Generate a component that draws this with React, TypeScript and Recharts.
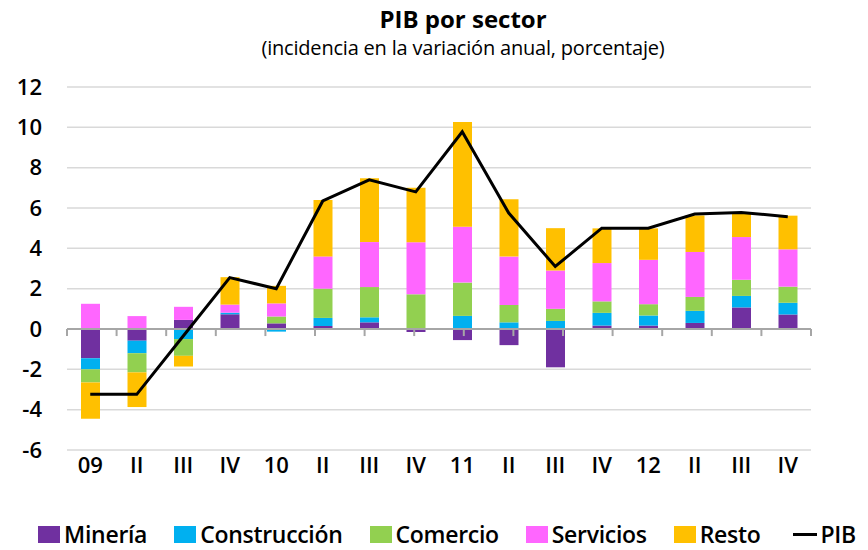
import {
  ComposedChart,
  Bar,
  Line,
  XAxis,
  YAxis,
  CartesianGrid,
  ReferenceLine,
} from "recharts";

// Trimestres (09 = 2009 I, 10 = 2010 I, ...)
const categories = ["09", "II", "III", "IV", "10", "II", "III", "IV", "11", "II", "III", "IV", "12", "II", "III", "IV"];

// Incidencias por sector (puntos porcentuales)
const mineria = [-1.45, -0.58, 0.45, 0.73, 0.28, 0.15, 0.33, -0.15, -0.55, -0.8, -1.9, 0.17, 0.17, 0.3, 1.07, 0.72];
const construccion = [-0.55, -0.62, -0.5, 0.08, -0.13, 0.4, 0.25, 0.02, 0.65, 0.33, 0.4, 0.63, 0.5, 0.6, 0.57, 0.58];
const comercio = [-0.65, -0.95, -0.83, 0, 0.34, 1.45, 1.5, 1.7, 1.65, 0.86, 0.6, 0.57, 0.56, 0.69, 0.8, 0.8];
const servicios = [1.25, 0.64, 0.65, 0.4, 0.65, 1.6, 2.23, 2.58, 2.77, 2.4, 1.9, 1.9, 2.2, 2.23, 2.12, 1.85];
const resto = [-1.8, -1.72, -0.53, 1.36, 0.87, 2.8, 3.17, 2.7, 5.2, 2.85, 2.1, 1.72, 1.56, 1.81, 1.19, 1.67];
const pib = [-3.24, -3.24, -0.35, 2.55, 2.0, 6.35, 7.4, 6.8, 9.78, 5.75, 3.1, 5.0, 5.0, 5.7, 5.78, 5.57];

const yTicks = [-6, -4, -2, 0, 2, 4, 6, 8, 10, 12];

const series = [
  { key: "Minería", values: mineria, color: "#7030A0" },
  { key: "Construcción", values: construccion, color: "#00B0F0" },
  { key: "Comercio", values: comercio, color: "#92D050" },
  { key: "Servicios", values: servicios, color: "#FF66FF" },
  { key: "Resto", values: resto, color: "#FFC000" },
];

const data = categories.map((label, i) => {
  const row: Record<string, number | string> = { label, PIB: pib[i] };
  series.forEach((s) => {
    row[s.key] = s.values[i];
  });
  return row;
});

// límites entre trimestres, para las marcas sobre la línea del cero
const boundaries = categories.map((_, i) => i).concat(categories.length);

const font = "'Open Sans', sans-serif";

const Leyenda = () => (
  <div
    style={{
      position: "absolute",
      top: 522,
      left: 0,
      width: 868,
      display: "flex",
      justifyContent: "center",
      alignItems: "flex-end",
      gap: 27,
      fontFamily: font,
      fontWeight: 600,
      fontSize: 23,
      color: "#000",
      paddingLeft: 26,
      boxSizing: "border-box",
      letterSpacing: -0.3,
    }}
  >
    {series.map((s) => (
      <div key={s.key} style={{ display: "flex", alignItems: "flex-end" }}>
        <span
          style={{
            display: "inline-block",
            width: 22,
            height: 17,
            background: s.color,
            marginRight: 4,
            marginBottom: 4,
          }}
        />
        <span style={{ lineHeight: "25px" }}>{s.key}</span>
      </div>
    ))}
    <div style={{ display: "flex", alignItems: "flex-end", marginLeft: 6 }}>
      <span
        style={{
          display: "inline-block",
          width: 24,
          height: 3,
          background: "#000",
          marginRight: 3,
          marginBottom: 11,
        }}
      />
      <span style={{ lineHeight: "25px" }}>PIB</span>
    </div>
  </div>
);

export default function App() {
  const tickStyle = { fontFamily: font, fontWeight: 600, fontSize: 22, fill: "#000" };
  return (
    <div style={{ position: "fixed", top: 0, left: 0, width: 868, height: 550, background: "#fff" }}>
      <div
        style={{
          position: "absolute",
          top: 3,
          left: 0,
          width: 868,
          textAlign: "center",
          fontFamily: font,
          color: "#000",
        }}
      >
        <div style={{ fontWeight: 700, fontSize: 24, lineHeight: "32px", paddingLeft: 58 }}>PIB por sector</div>
        <div style={{ fontSize: 20, lineHeight: "26px", paddingLeft: 58, letterSpacing: -0.2 }}>
          (incidencia en la variación anual, porcentaje)
        </div>
      </div>
      <ComposedChart
        width={868}
        height={550}
        data={data}
        stackOffset="sign"
        margin={{ top: 87, right: 0, left: 0, bottom: 60 }}
      >
        <CartesianGrid vertical={false} stroke="#d9d9d9" strokeWidth={1.5} yAxisId="left" />
        <XAxis
          xAxisId="cat"
          dataKey="label"
          axisLine={false}
          tickLine={false}
          tickSize={0}
          tickMargin={7}
          height={40}
          interval={0}
          tick={tickStyle}
        />
        <XAxis xAxisId="num" type="number" domain={[0, categories.length]} hide allowDataOverflow />
        <YAxis
          yAxisId="left"
          domain={[-6, 12]}
          ticks={yTicks}
          axisLine={false}
          tickLine={false}
          tickSize={0}
          tickMargin={25}
          width={67}
          interval={0}
          tick={tickStyle}
        />
        <YAxis
          yAxisId="right"
          orientation="right"
          domain={[-6, 12]}
          ticks={yTicks}
          axisLine={false}
          tickLine={false}
          tickSize={0}
          tickMargin={22}
          width={57}
          interval={0}
          tick={tickStyle}
        />
        {series.map((s) => (
          <Bar
            key={s.key}
            dataKey={s.key}
            stackId="sector"
            xAxisId="cat"
            yAxisId="left"
            fill={s.color}
            barSize={19}
            isAnimationActive={false}
          />
        ))}
        <ReferenceLine y={0} xAxisId="num" yAxisId="left" stroke="#a6a6a6" strokeWidth={2} />
        {boundaries.map((b) => (
          <ReferenceLine
            key={b}
            xAxisId="num"
            yAxisId="left"
            segment={[
              { x: b, y: 0 },
              { x: b, y: -0.35 },
            ]}
            stroke="#a6a6a6"
            strokeWidth={2}
          />
        ))}
        <Line
          dataKey="PIB"
          xAxisId="cat"
          yAxisId="left"
          type="linear"
          stroke="#000"
          strokeWidth={3}
          dot={false}
          isAnimationActive={false}
        />
      </ComposedChart>
      <Leyenda />
    </div>
  );
}
